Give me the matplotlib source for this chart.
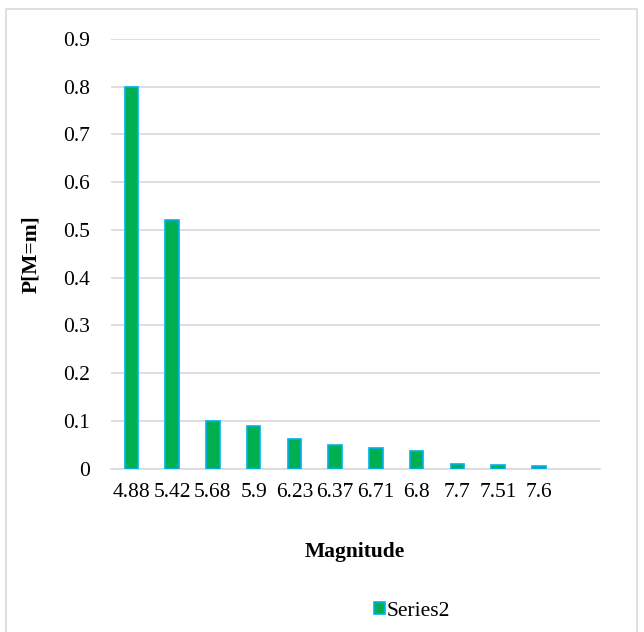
import matplotlib.pyplot as plt
from matplotlib.patches import Rectangle

magnitudes = ['4.88', '5.42', '5.68', '5.9', '6.23', '6.37', '6.71', '6.8', '7.7', '7.51', '7.6']
probs = [0.8, 0.52, 0.1, 0.09, 0.063, 0.05, 0.043, 0.038, 0.009, 0.007, 0.005]
n_slots = 12  # the axis keeps one empty slot on the right

plt.rcParams['font.family'] = ['Liberation Serif', 'DejaVu Serif']
fs = 15.5

fig = plt.figure(figsize=(6.44, 6.32), dpi=100)
ax = fig.add_axes([111 / 644, 1 - 468.7 / 632, 489 / 644, 429.7 / 632])

x = range(len(magnitudes))
ax.bar(x, probs, width=0.33, color='#00B050', edgecolor='#00B0F0', linewidth=1.2,
       label='Series2', zorder=3)

ax.set_xlim(-0.5, n_slots - 0.5)
ax.set_ylim(0, 0.9)
ax.set_yticks([i / 10 for i in range(10)])
ax.set_yticklabels(['0'] + ['%.1f' % (i / 10) for i in range(1, 10)])
ax.set_xticks(list(x))
ax.set_xticklabels(magnitudes)

ax.grid(axis='y', color='#D9D9D9', linewidth=1.2, zorder=0)
for s in ['top', 'right', 'left']:
    ax.spines[s].set_visible(False)
ax.spines['bottom'].set_color('#D9D9D9')
ax.spines['bottom'].set_linewidth(1.2)
ax.tick_params(axis='both', length=0, labelsize=fs)
ax.tick_params(axis='y', pad=15)
ax.tick_params(axis='x', pad=10)

ax.set_ylabel('P[M=m]', fontsize=fs, fontweight='bold')
ax.yaxis.set_label_coords(-0.142, 0.5)
fig.text(355 / 644, 1 - 552 / 632, 'Magnitude', fontsize=fs, fontweight='bold',
         ha='center', va='center')

fig.legend(loc='center', bbox_to_anchor=(412 / 644, 1 - 611 / 632), frameon=False,
           fontsize=fs, handlelength=0.5, handleheight=0.5, handletextpad=0.1)

fig.patches.append(Rectangle((6 / 644, -0.02), 631 / 644, 1 - 9 / 632 + 0.02,
                             transform=fig.transFigure, fill=False,
                             edgecolor='#D9D9D9', linewidth=1.2))

fig.savefig('out.png', dpi=100)
